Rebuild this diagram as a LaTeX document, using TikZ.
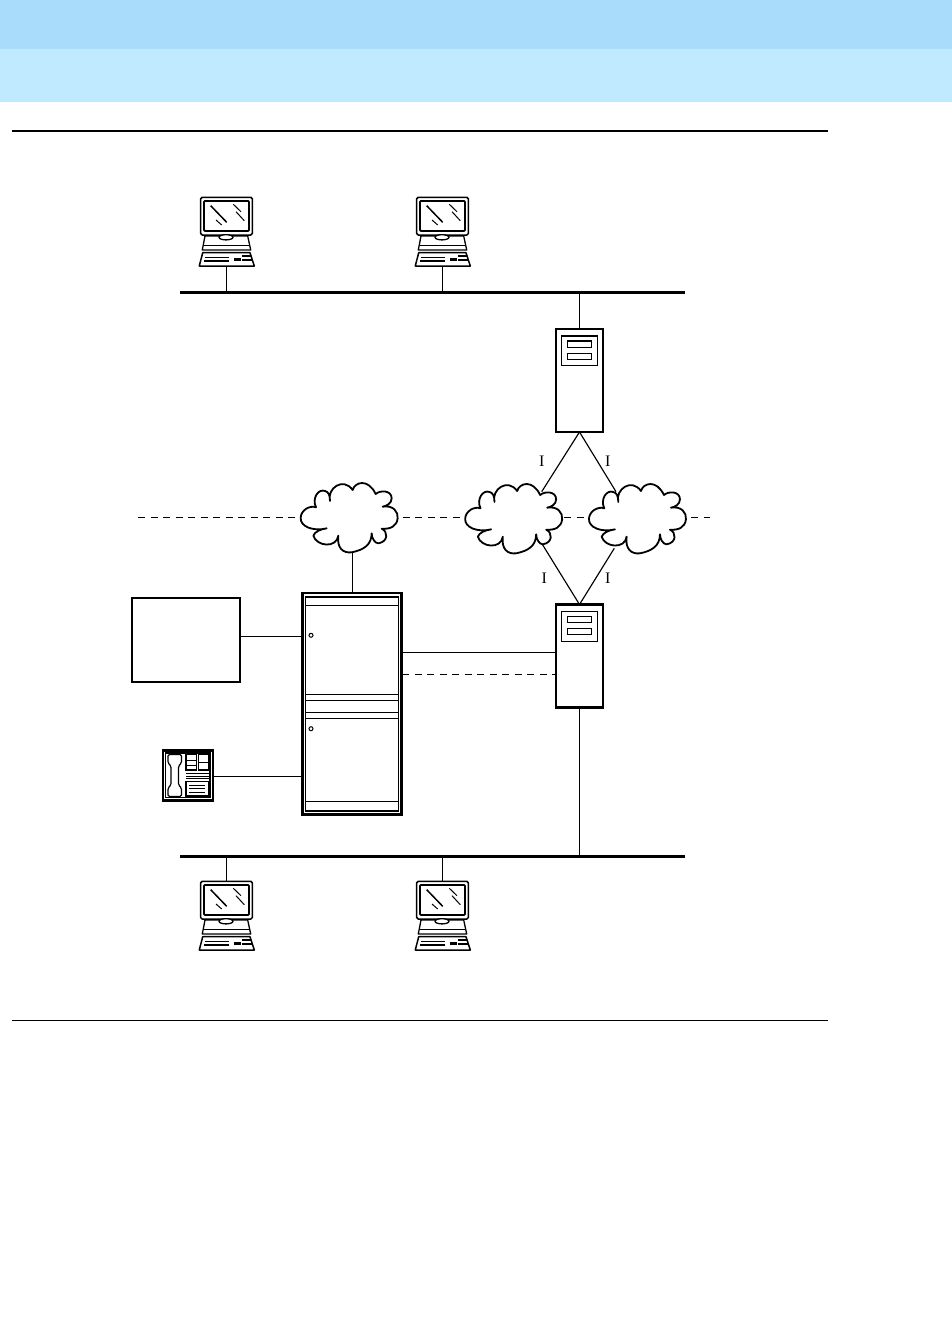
\documentclass[tikz,border=0pt]{standalone}
\usepackage{fontspec}
\setmainfont{Liberation Serif}
\definecolor{bandA}{HTML}{A8DCFA}
\definecolor{bandB}{HTML}{C0EAFF}
\tikzset{
  x=1pt,y=-1pt,
  thin line/.style={line width=1.15pt,black},
  dash line/.style={line width=1pt,black,dash pattern=on 7pt off 5.5pt},
  bus/.style={draw=none,fill=black,inner sep=0pt,outer sep=0pt,minimum width=505pt,minimum height=3pt},
  ghost/.style={draw=none,inner sep=0pt,outer sep=0pt,minimum width=#1,minimum height=70pt},
  srv/.style={draw=black,line width=2.2pt,fill=white,inner sep=0pt,outer sep=0pt,minimum width=47pt,minimum height=103pt},
  ilabel/.style={font=\fontsize{16}{16}\selectfont,inner sep=0pt},
  pcline/.style={line width=1.3pt,black,line join=round},
  cloudline/.style={line width=1.8pt,black,fill=white,line join=round},
}
% computer: drawn at its position in the top-left case, then shifted
\newcommand{\pccomp}[3]{%
  \node[inner sep=0pt,outer sep=0pt,minimum width=55pt,minimum height=70pt] (#1) at (#2+226.8,#3+232) {};
  \begin{scope}[shift={(#2,#3)}]
    \draw[pcline,line width=1.5pt,rounded corners=1.5pt] (200.7,197.3) rectangle (252.3,235);
    \draw[pcline,line width=1.8pt,rounded corners=1pt] (204,200.9) rectangle (249,231);
    \draw[line width=1.5pt] (210.7,205.7) -- (226.7,222.3);
    \draw[line width=1pt] (216,220) -- (221.7,225);
    \draw[line width=1pt] (233.3,204.3) -- (241,211.7);
    \draw[line width=1pt] (236,211.7) -- (244.3,220.7);
    \draw[pcline] (205,236) -- (247.7,236) -- (250.7,250) -- (202.3,250) -- cycle;
    \draw[line width=1pt] (203,245.5) -- (250,245.5);
    \draw[pcline,fill=white] (226,237.3) ellipse (7 and 2.6);
    \draw[pcline,line width=1.5pt] (202.7,252.7) -- (250,252.7) -- (254.3,266) -- (199.3,266) -- cycle;
    \draw[line width=1.2pt] (205,257.7) -- (229.3,257.7);
    \draw[line width=1.2pt] (204,261) -- (229.3,261);
    \fill (234.3,258.3) rectangle (241,261);
    \fill (241.5,255) rectangle (251,256.8);
    \fill (241.5,259) rectangle (251.5,260.5);
  \end{scope}}
% server details
\newcommand{\srvpanel}[1]{%
  \begin{scope}[yshift=#1]
    \draw[line width=1.4pt] (561.7,336) rectangle (597.7,365.7);
    \draw[line width=1.2pt] (567.3,341) rectangle (591.7,347.3);
    \draw[line width=1.2pt] (567.3,353.3) rectangle (591.7,359.3);
  \end{scope}}
% cloud, shape given in 3x units
\newcommand{\cloudshape}[2]{%
  \begin{scope}[shift={(#1,#2)},x=0.3333pt,y=-0.3333pt]
    \draw[cloudline] (140,175) .. controls (100,185) and (60,170) .. (62,143)
      .. controls (63,120) and (90,105) .. (108,112)
      .. controls (95,85) and (115,55) .. (135,63)
      .. controls (145,65) and (150,75) .. (150,93)
      .. controls (140,55) and (190,20) .. (218,60)
      .. controls (225,35) and (265,25) .. (287,72)
      .. controls (300,60) and (335,60) .. (335,85)
      .. controls (335,100) and (320,108) .. (308,110)
      .. controls (340,105) and (355,125) .. (353,145)
      .. controls (350,170) and (330,178) .. (305,176)
      .. controls (325,185) and (325,215) .. (295,220)
      .. controls (285,220) and (275,205) .. (275,190)
      .. controls (275,225) and (250,240) .. (215,247)
      .. controls (190,250) and (170,235) .. (175,197)
      .. controls (170,235) and (110,230) .. (100,197)
      .. controls (105,185) and (120,178) .. (140,175) -- cycle;
  \end{scope}}
\begin{document}
\begin{tikzpicture}
\useasboundingbox (0,0) rectangle (952,1326);
% header
\fill[bandB] (0,49) rectangle (952,101.5);
\fill[bandA] (0,0) rectangle (952,49);
\fill (12,130.4) rectangle (828,132.3);
\fill (12,1019.6) rectangle (828,1020.8);

% buses
\node[bus] (busT) at (432.5,292.5) {};
\node[bus] (busB) at (432.5,856) {};

% computers
\pccomp{pcA}{0}{0}
\pccomp{pcB}{216}{0}
\pccomp{pcC}{0}{684}
\pccomp{pcD}{216}{684}
\draw[thin line] (226.5,266) -- (226.5,292);
\draw[thin line] (442.5,266) -- (442.5,292);
\draw[thin line] (226.5,856) -- (226.5,881);
\draw[thin line] (442.5,856) -- (442.5,881);

% cloud anchors
\node[ghost=97pt] (cl1) at (349.2,517) {};
\node[ghost=97pt] (cl2) at (513.5,517) {};
\node[ghost=97pt] (cl3) at (637.5,517) {};
\coordinate (dashL) at (138,517.5);
\coordinate (dashR) at (710,517.5);
\draw[dash line] (dashL) -- (dashL -| cl1.west);
\draw[dash line] (cl1.east |- dashL) ++(5,0) -- (dashL -| cl2.west);
\draw[dash line] (cl2.east |- dashL) ++(2,0) -- (dashL -| cl3.west);
\draw[dash line] (cl3.east |- dashL) ++(5,0) -- (dashR);

% servers
\node[srv] (srvT) at (579.5,380.5) {};
\node[srv] (srvB) at (579.5,656) {};
\srvpanel{0pt}
\srvpanel{-275.5pt}
\draw[thin line] (srvT.north) -- (srvT.north |- busT);
\draw[thin line] (srvB.south) -- (srvB.south |- busB);

% diamond
\coordinate (cAa) at (541.7,491.7);
\coordinate (cAb) at (616,491.7);
\coordinate (cBa) at (542.3,544.3);
\coordinate (cBb) at (614.3,548.3);
\draw[thin line] (srvT.south) -- (cAa);
\draw[thin line] (srvT.south) -- (cAb);
\draw[thin line] (srvB.north) -- (cBa);
\draw[thin line] (srvB.north) -- (cBb);

% clouds
\cloudshape{280}{470}
\cloudshape{444.5}{471}
\cloudshape{568.3}{471}

\node[ilabel] (la) at (541.7,461.7) {I};
\node[ilabel] (lb) at (607.7,461.7) {I};
\node[ilabel] (lc) at (544.3,578.3) {I};
\node[ilabel] (ld) at (607.7,578.3) {I};

% cabinet
\node[draw=black,line width=2.6pt,inner sep=0pt,outer sep=0pt,minimum width=99pt,minimum height=221.5pt] (cab) at (352.2,703.7) {};
\draw[line width=1.2pt] (305.5,597) rectangle (398.8,811);
\foreach \yy in {605.7,694.3,700.3,712.3,718.3,801.7} \draw[line width=1.2pt] (305.5,\yy) -- (398.8,\yy);
\draw[line width=1pt] (311,635.3) circle (2);
\draw[line width=1pt] (311,728.7) circle (2);
\draw[thin line] (cab.north |- cl1.south) -- (cab.north);

% left box
\node[draw=black,line width=2.2pt,inner sep=0pt,outer sep=0pt,minimum width=108pt,minimum height=84pt] (pbx) at (186.2,640) {};
\coordinate (pbxOut) at (240.2,636.5);
\draw[thin line] (pbxOut) -- (pbxOut -| cab.west);

% phone
\node[draw=black,line width=2.2pt,inner sep=0pt,outer sep=0pt,minimum width=50pt,minimum height=50pt] (tel) at (188.3,775.5) {};
\draw[line width=1.2pt] (165.7,753) rectangle (210,797.5);
\draw[line width=1.2pt,rounded corners=1.5pt] (168,754.5) -- (181.5,754.5) -- (181.5,763) -- (178.5,766) -- (178.5,785) -- (181.5,788) -- (181.5,796.5) -- (168,796.5) -- (168,788) -- (171,785) -- (171,766) -- (168,763) -- cycle;
\draw[line width=1.2pt] (186,754.5) rectangle (196.5,770);
\draw[line width=1pt] (186,760.5) -- (196.5,760.5);
\draw[line width=1pt] (186,765) -- (196.5,765);
\draw[line width=1.2pt] (198.5,754.5) rectangle (208.5,770);
\draw[line width=1pt] (198.5,762) -- (208.5,762);
\foreach \yy in {773.5,776,778.5} \draw[line width=1pt] (186,\yy) -- (208.5,\yy);
\draw[line width=1.2pt] (186,781.5) rectangle (208.5,796);
\foreach \yy in {785.5,788.5,792.5} \draw[line width=1pt] (189,\yy) -- (205,\yy);
\draw[thin line] (tel.east) ++(0,1) -- ++(89,0);

% cabinet to server
\coordinate (linkA) at (402,652.5);
\coordinate (linkB) at (402,674.5);
\draw[thin line] (linkA) -- (linkA -| srvB.west);
\draw[dash line] (linkB) -- (linkB -| srvB.west);
\end{tikzpicture}
\end{document}
